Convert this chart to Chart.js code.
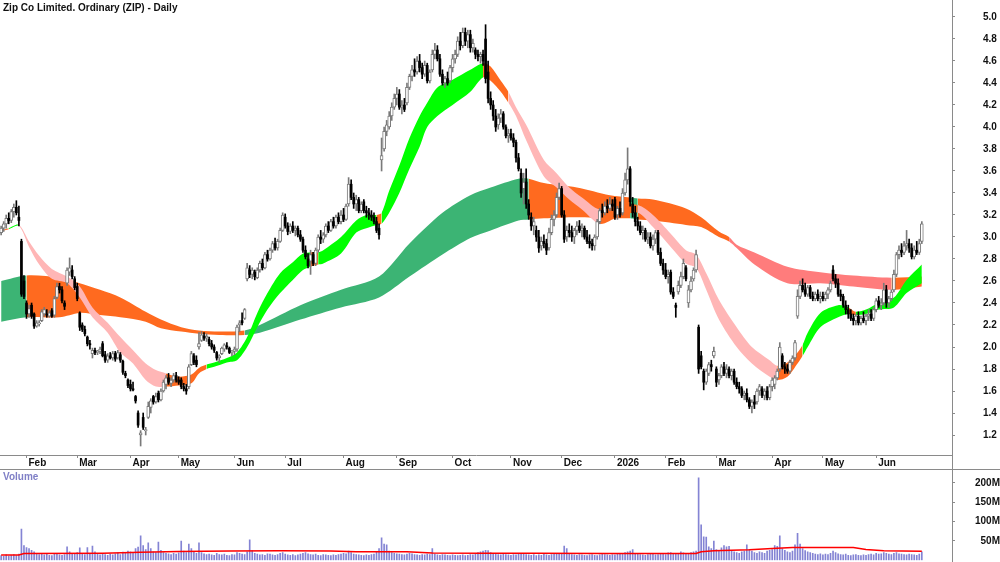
<!DOCTYPE html>
<html><head><meta charset="utf-8">
<script src="https://cdn.jsdelivr.net/npm/chart.js@4.4.1/dist/chart.umd.min.js"></script>
<style>
html,body{margin:0;padding:0;background:#fff;}
#wrap{position:relative;width:1000px;height:562px;overflow:hidden;background:#fff;}
.lbl{position:absolute;font-family:"Liberation Sans",Arial,sans-serif;font-weight:bold;font-size:10px;line-height:12px;white-space:nowrap;}
</style></head><body>
<div id="wrap">
<canvas id="main" width="1000" height="470" style="position:absolute;left:0;top:0"></canvas>
<canvas id="vol" width="1000" height="92" style="position:absolute;left:0;top:470px"></canvas>
<div style="position:absolute;left:0;top:469px;width:1000px;height:1px;background:#8a8a8a"></div>
<div style="position:absolute;left:952px;top:0;width:1px;height:562px;background:#8a8a8a"></div>
<div class="lbl" style="left:3px;top:2px;color:#111">Zip Co Limited. Ordinary (ZIP) - Daily</div>
<div class="lbl" style="left:3px;top:471px;color:#7f7fc6">Volume</div>
</div>
<script>
// ---- categories: ASX trading days ----
const startDate = '2025-01-17', endDate = '2026-06-26';
const holidays = ['2025-01-27','2025-04-18','2025-04-21','2025-04-25','2025-06-09','2025-12-25','2025-12-26','2026-01-01','2026-01-26','2026-04-03','2026-04-06','2026-06-08'];
const monthNames = ['Jan','Feb','Mar','Apr','May','Jun','Jul','Aug','Sep','Oct','Nov','Dec'];
const priceTicks = [1.2,1.4,1.6,1.8,2.0,2.2,2.4,2.6,2.8,3.0,3.2,3.4,3.6,3.8,4.0,4.2,4.4,4.6,4.8,5.0];
const volTicks = [50,100,150,200];

// ---- OHLC ----
const opens = [
3.04,3.08,3.12,3.17,3.15,3.23,3.27,3.18,2.96,2.60,
2.40,2.30,2.38,2.30,2.19,2.21,2.24,2.30,2.30,2.28,
2.33,2.29,2.45,2.55,2.52,2.40,2.58,2.68,2.70,2.62,
2.55,2.31,2.20,2.16,2.09,2.03,1.94,1.97,1.95,1.96,
2.03,1.93,1.88,1.92,1.90,1.94,1.90,1.93,1.87,1.76,
1.70,1.66,1.62,1.55,1.40,1.20,1.36,1.24,1.36,1.45,
1.55,1.50,1.58,1.52,1.60,1.66,1.72,1.67,1.70,1.74,
1.70,1.70,1.64,1.62,1.64,1.84,1.92,1.88,2.00,2.06,
2.10,2.08,2.07,2.03,2.00,1.95,1.90,1.94,1.98,2.01,
1.99,1.95,1.96,1.98,2.20,2.24,2.26,2.62,2.70,2.66,
2.68,2.63,2.70,2.76,2.72,2.84,2.80,2.88,2.94,2.90,
2.96,3.06,3.18,3.10,3.05,3.10,3.06,3.08,3.02,2.98,
2.88,2.80,2.78,2.84,2.76,2.88,3.00,2.98,3.02,3.10,
3.06,3.14,3.10,3.18,3.14,3.20,3.16,3.30,3.48,3.36,
3.30,3.34,3.24,3.32,3.24,3.22,3.20,3.18,3.14,3.08,
3.70,3.80,3.96,4.00,4.10,4.18,4.26,4.30,4.18,4.20,
4.22,4.36,4.46,4.52,4.50,4.60,4.54,4.48,4.56,4.42,
4.52,4.66,4.70,4.62,4.48,4.40,4.44,4.42,4.54,4.62,
4.66,4.78,4.74,4.86,4.78,4.84,4.72,4.70,4.66,4.64,
4.66,4.80,4.50,4.26,4.20,4.10,4.02,4.08,4.12,4.00,
3.92,3.94,3.90,3.86,3.72,3.58,3.44,3.50,3.30,3.18,
3.10,3.06,3.00,2.92,2.96,2.94,2.90,3.04,3.16,3.20,
3.36,3.44,3.20,3.00,3.06,3.04,3.00,3.06,3.10,3.06,
3.08,3.00,2.96,2.94,2.92,3.00,3.14,3.24,3.22,3.28,
3.26,3.30,3.34,3.20,3.26,3.22,3.40,3.52,3.62,3.30,
3.22,3.14,3.10,3.04,3.06,2.98,3.00,2.92,2.98,3.04,
2.86,2.76,2.70,2.64,2.68,2.50,2.38,2.50,2.56,2.64,
2.72,2.40,2.52,2.62,2.70,2.18,1.92,1.78,1.68,1.76,
1.84,1.92,1.80,1.70,1.74,1.82,1.76,1.80,1.74,1.78,
1.68,1.64,1.62,1.56,1.58,1.52,1.46,1.50,1.50,1.60,
1.62,1.56,1.60,1.54,1.64,1.66,1.72,1.80,1.92,1.82,
1.80,1.78,1.86,1.90,2.28,2.46,2.56,2.52,2.48,2.54,
2.46,2.44,2.48,2.44,2.46,2.44,2.48,2.52,2.70,2.62,
2.58,2.48,2.46,2.38,2.34,2.30,2.26,2.24,2.28,2.22,
2.26,2.24,2.28,2.30,2.26,2.34,2.42,2.38,2.40,2.52,
2.40,2.44,2.52,2.66,2.84,2.88,2.86,2.92,2.94,2.90,
2.82,2.88,2.86,2.96];
const highs = [
3.10,3.14,3.20,3.22,3.25,3.30,3.33,3.28,2.98,2.65,
2.42,2.38,2.40,2.31,2.24,2.24,2.34,2.36,2.34,2.33,
2.35,2.46,2.58,2.58,2.55,2.42,2.72,2.81,2.74,2.64,
2.58,2.32,2.22,2.19,2.10,2.06,1.99,1.99,1.97,2.00,
2.05,1.96,1.94,1.95,1.96,1.96,1.97,1.95,1.88,1.78,
1.71,1.70,1.68,1.56,1.42,1.24,1.40,1.27,1.50,1.53,
1.56,1.58,1.60,1.62,1.70,1.74,1.76,1.72,1.76,1.77,
1.73,1.72,1.67,1.66,1.84,1.96,1.94,1.92,2.13,2.14,
2.13,2.12,2.09,2.06,2.02,1.96,1.93,2.00,2.03,2.04,
2.00,1.97,2.00,2.20,2.24,2.31,2.35,2.76,2.74,2.72,
2.70,2.72,2.78,2.80,2.86,2.88,2.90,2.96,2.99,2.98,
3.08,3.22,3.21,3.13,3.12,3.14,3.10,3.10,3.06,3.00,
2.92,2.85,2.88,2.86,2.90,3.02,3.06,3.04,3.12,3.14,
3.16,3.18,3.20,3.22,3.24,3.26,3.30,3.54,3.52,3.40,
3.38,3.36,3.32,3.34,3.28,3.26,3.24,3.22,3.18,3.12,
3.90,4.00,4.06,4.14,4.22,4.30,4.36,4.34,4.24,4.26,
4.40,4.48,4.56,4.62,4.64,4.66,4.58,4.60,4.58,4.52,
4.70,4.76,4.74,4.66,4.52,4.46,4.50,4.56,4.66,4.70,
4.82,4.86,4.90,4.90,4.88,4.88,4.80,4.72,4.70,4.68,
4.70,4.93,4.60,4.32,4.24,4.16,4.12,4.16,4.14,4.02,
3.98,3.98,3.94,3.88,3.76,3.62,3.58,3.62,3.34,3.22,
3.18,3.10,3.06,3.00,3.02,2.98,3.08,3.20,3.24,3.40,
3.49,3.46,3.24,3.10,3.12,3.10,3.08,3.14,3.15,3.12,
3.10,3.06,3.02,2.98,3.02,3.16,3.26,3.30,3.32,3.34,
3.36,3.34,3.36,3.28,3.32,3.44,3.58,3.81,3.64,3.36,
3.28,3.18,3.14,3.10,3.08,3.04,3.04,3.02,3.06,3.06,
2.90,2.80,2.76,2.70,2.70,2.54,2.40,2.60,2.68,2.80,
2.74,2.56,2.64,2.72,2.88,2.20,1.96,1.80,1.80,1.86,
1.88,2.00,1.82,1.76,1.84,1.86,1.84,1.82,1.80,1.80,
1.72,1.68,1.64,1.60,1.62,1.54,1.52,1.56,1.62,1.66,
1.64,1.62,1.64,1.66,1.72,1.74,1.80,2.04,1.94,1.86,
1.84,1.88,1.92,2.06,2.52,2.60,2.62,2.58,2.56,2.56,
2.50,2.50,2.52,2.50,2.50,2.50,2.54,2.60,2.74,2.66,
2.62,2.52,2.48,2.42,2.38,2.34,2.30,2.30,2.32,2.28,
2.32,2.30,2.34,2.34,2.36,2.44,2.46,2.44,2.58,2.56,
2.46,2.52,2.70,2.86,2.92,2.94,2.96,3.06,2.98,2.94,
2.92,2.96,2.98,3.14];
const lows = [
3.02,3.05,3.08,3.12,3.13,3.18,3.20,3.10,2.46,2.44,
2.26,2.27,2.26,2.17,2.18,2.19,2.23,2.28,2.27,2.27,
2.27,2.27,2.44,2.49,2.40,2.34,2.56,2.65,2.62,2.52,
2.42,2.15,2.14,2.10,2.01,1.98,1.90,1.93,1.93,1.94,
1.91,1.86,1.86,1.89,1.88,1.87,1.89,1.86,1.75,1.72,
1.63,1.60,1.60,1.49,1.27,1.10,1.25,1.20,1.35,1.40,
1.48,1.49,1.50,1.51,1.59,1.62,1.66,1.64,1.68,1.68,
1.66,1.62,1.60,1.57,1.62,1.83,1.84,1.82,1.98,2.05,
2.06,2.05,2.01,1.98,1.95,1.88,1.86,1.93,1.96,1.98,
1.94,1.92,1.93,1.96,2.14,2.20,2.25,2.60,2.63,2.62,
2.61,2.62,2.68,2.70,2.71,2.78,2.79,2.86,2.88,2.88,
2.95,3.05,3.08,3.02,3.03,3.04,3.01,3.00,2.96,2.86,
2.80,2.72,2.66,2.74,2.74,2.86,2.94,2.95,3.00,3.04,
3.05,3.08,3.08,3.12,3.12,3.14,3.15,3.28,3.34,3.26,
3.24,3.22,3.22,3.22,3.18,3.16,3.15,3.12,3.04,2.98,
3.60,3.78,3.92,3.98,4.06,4.16,4.20,4.16,4.12,4.14,
4.20,4.34,4.42,4.46,4.48,4.50,4.44,4.46,4.40,4.40,
4.50,4.62,4.60,4.46,4.38,4.36,4.38,4.40,4.50,4.58,
4.64,4.70,4.72,4.74,4.72,4.68,4.68,4.62,4.60,4.58,
4.56,4.40,4.22,4.16,4.06,3.96,3.98,4.04,3.98,3.90,
3.86,3.88,3.82,3.68,3.60,3.36,3.30,3.26,3.16,3.06,
3.02,2.96,2.86,2.88,2.90,2.84,2.88,3.02,3.10,3.18,
3.34,3.18,2.95,2.96,3.00,2.96,2.94,3.02,3.04,3.00,
2.98,2.94,2.90,2.88,2.88,2.98,3.12,3.18,3.20,3.22,
3.24,3.24,3.16,3.16,3.18,3.20,3.38,3.48,3.28,3.18,
3.10,3.06,3.02,2.98,2.96,2.94,2.90,2.88,2.94,2.84,
2.74,2.66,2.62,2.58,2.48,2.44,2.27,2.48,2.54,2.62,
2.60,2.36,2.50,2.60,2.68,1.76,1.80,1.61,1.66,1.74,
1.78,1.90,1.64,1.66,1.72,1.74,1.72,1.72,1.70,1.66,
1.62,1.58,1.54,1.52,1.50,1.44,1.40,1.44,1.48,1.56,
1.54,1.52,1.52,1.52,1.60,1.62,1.70,1.78,1.80,1.76,
1.76,1.76,1.84,1.88,2.26,2.44,2.50,2.46,2.46,2.44,
2.42,2.42,2.42,2.40,2.42,2.42,2.44,2.50,2.60,2.54,
2.46,2.42,2.36,2.30,2.26,2.24,2.20,2.20,2.20,2.20,
2.22,2.20,2.24,2.24,2.24,2.32,2.36,2.34,2.38,2.36,
2.36,2.42,2.50,2.64,2.80,2.82,2.84,2.88,2.86,2.80,
2.80,2.84,2.84,2.94];
const closes = [
3.08,3.12,3.17,3.15,3.23,3.27,3.22,3.15,2.48,2.46,
2.30,2.35,2.28,2.19,2.22,2.22,2.32,2.34,2.29,2.31,
2.28,2.44,2.55,2.52,2.42,2.37,2.70,2.72,2.64,2.54,
2.44,2.18,2.16,2.12,2.03,2.02,1.97,1.95,1.96,1.98,
1.92,1.88,1.92,1.90,1.94,1.89,1.95,1.88,1.77,1.74,
1.65,1.62,1.61,1.51,1.29,1.22,1.27,1.25,1.46,1.51,
1.50,1.55,1.52,1.60,1.68,1.72,1.68,1.70,1.74,1.70,
1.68,1.64,1.62,1.60,1.82,1.94,1.86,1.84,2.03,2.11,
2.08,2.10,2.03,2.00,1.97,1.90,1.92,1.99,2.02,2.00,
1.95,1.96,1.98,2.18,2.22,2.22,2.34,2.72,2.66,2.70,
2.64,2.70,2.76,2.72,2.84,2.80,2.88,2.94,2.90,2.96,
3.06,3.20,3.10,3.05,3.10,3.06,3.08,3.02,2.98,2.88,
2.82,2.74,2.84,2.76,2.88,3.00,2.98,3.02,3.10,3.06,
3.14,3.10,3.18,3.14,3.20,3.16,3.28,3.48,3.36,3.30,
3.34,3.24,3.30,3.24,3.22,3.20,3.18,3.14,3.06,3.02,
3.74,3.96,4.02,4.10,4.18,4.26,4.30,4.18,4.20,4.16,
4.36,4.46,4.52,4.50,4.60,4.54,4.48,4.56,4.42,4.50,
4.66,4.70,4.62,4.48,4.40,4.44,4.40,4.54,4.62,4.66,
4.78,4.74,4.86,4.78,4.84,4.72,4.76,4.66,4.64,4.66,
4.60,4.44,4.26,4.20,4.10,4.00,4.08,4.12,4.00,3.92,
3.94,3.90,3.86,3.72,3.62,3.40,3.50,3.30,3.20,3.10,
3.14,3.00,2.90,2.96,2.94,2.88,3.04,3.16,3.20,3.36,
3.44,3.20,2.98,3.06,3.04,3.00,3.06,3.10,3.06,3.08,
3.00,2.96,2.94,2.92,3.00,3.14,3.24,3.22,3.28,3.26,
3.30,3.28,3.18,3.26,3.20,3.40,3.52,3.62,3.32,3.22,
3.14,3.10,3.04,3.06,2.98,3.00,2.92,2.98,3.04,2.86,
2.76,2.70,2.64,2.66,2.50,2.46,2.36,2.56,2.64,2.76,
2.62,2.52,2.60,2.70,2.84,1.80,1.82,1.68,1.78,1.84,
1.82,1.96,1.68,1.74,1.82,1.76,1.80,1.74,1.78,1.68,
1.64,1.62,1.56,1.58,1.52,1.46,1.50,1.48,1.60,1.64,
1.56,1.60,1.54,1.64,1.70,1.72,1.78,2.00,1.82,1.80,
1.78,1.86,1.90,2.04,2.46,2.56,2.52,2.48,2.54,2.46,
2.44,2.48,2.44,2.46,2.44,2.48,2.52,2.58,2.62,2.58,
2.48,2.46,2.38,2.34,2.30,2.26,2.24,2.28,2.22,2.26,
2.24,2.28,2.30,2.26,2.34,2.42,2.38,2.40,2.52,2.40,
2.44,2.50,2.66,2.84,2.88,2.86,2.92,2.94,2.90,2.82,
2.88,2.86,2.94,3.12];

// ---- volume (millions) ----
const volumes = [
12,10,14,11,13,15,12,16,81,38,
33,30,26,22,18,15,17,14,16,13,
12,18,16,14,13,15,35,22,18,16,
20,32,17,15,33,18,37,22,16,14,
18,15,13,16,14,17,19,15,21,18,
24,22,20,30,34,63,38,28,45,30,
22,20,47,26,20,18,17,15,18,16,
19,50,24,20,42,30,22,18,45,20,
17,15,16,14,13,18,15,14,16,13,
12,15,14,20,18,16,15,22,53,25,
18,16,14,15,13,17,16,14,13,15,
18,20,16,14,13,15,12,14,16,18,
20,17,15,14,16,13,12,15,14,13,
12,14,13,15,16,18,17,24,20,16,
15,14,13,12,14,13,15,16,22,30,
58,42,40,24,20,18,17,16,15,14,
16,18,17,15,14,13,15,14,16,15,
30,16,14,13,15,14,13,12,14,13,
12,13,14,12,13,15,14,16,20,22,
24,26,25,20,18,16,15,14,16,15,
14,13,15,14,17,18,16,15,14,13,
15,12,14,13,16,14,13,15,16,18,
17,16,37,30,18,15,14,13,15,14,
13,12,14,15,13,12,14,16,15,14,
13,15,14,16,18,17,20,22,24,28,
18,16,15,14,13,15,16,17,14,15,
18,16,15,19,20,17,16,18,22,19,
18,17,20,22,24,213,92,61,60,35,
30,50,28,26,32,38,35,36,24,22,
20,18,22,24,40,28,24,20,18,22,
20,18,24,26,28,38,36,63,30,26,
22,20,24,40,70,42,30,25,22,20,
18,16,15,17,14,16,15,18,24,20,
17,15,14,16,13,12,14,15,13,12,
14,13,15,16,14,18,16,17,20,18,
16,15,18,20,17,16,15,14,16,15,
14,13,16,22];
const volMaX = [0,7,9,40,55,70,90,110,130,140,160,170,190,210,240,274,276,281,295,304,312,336,341,348,363];
const volMa  = [14,14,17.5,18.5,21,23,24,24.5,24,22,22,19,18.5,18,17.5,17.5,22,24.5,27,30.5,33,33,28,25,23.5];

// ---- long-term ribbon ----
const longX   = [0,10,23,31,39,47,57,63,71,78,86,96,102,118,134,149,161,174,185,193,204,208,214,227,240,248,251,257,270,276,283,287,290,297,310,323,336,351,363];
const longTop = [2.60,2.65,2.63,2.58,2.52,2.45,2.32,2.25,2.18,2.15,2.14,2.15,2.20,2.38,2.52,2.64,2.94,3.22,3.38,3.45,3.53,3.53,3.49,3.45,3.38,3.36,3.35,3.34,3.26,3.18,3.05,3.00,2.93,2.86,2.73,2.68,2.65,2.63,2.64];
const longBot = [2.23,2.27,2.27,2.31,2.29,2.27,2.23,2.17,2.14,2.12,2.11,2.11,2.13,2.25,2.36,2.45,2.64,2.84,2.99,3.06,3.15,3.16,3.17,3.18,3.17,3.17,3.16,3.15,3.11,3.09,3.00,2.96,2.90,2.75,2.58,2.58,2.55,2.52,2.55];
const longCol = 'GOOOOOOOOOOGGGGGGGGGGOOOOGOOOOOSSSSSSOO'.split('');

// ---- short-term ribbon ----
const shortX   = [0,3,7,11,15,20,26,31,36,42,47,52,57,61,65,70,75,78,81,84,89,93,97,101,105,110,115,119,122,125,127,134,140,144,148,150,153,157,161,165,168,172,178,185,190,193,197,200,203,207,214,219,224,229,236,243,251,257,264,270,274,278,283,290,296,303,306,310,314,316,318,323,330,334,337,341,346,352,357,363];
const shortTop = [3.06,3.08,3.11,2.96,2.83,2.71,2.64,2.55,2.36,2.22,2.09,1.97,1.85,1.79,1.76,1.73,1.75,1.81,1.84,1.86,1.90,1.95,2.09,2.31,2.49,2.67,2.77,2.85,2.86,2.86,2.88,3.00,3.15,3.20,3.20,3.22,3.42,3.65,3.90,4.10,4.22,4.36,4.43,4.52,4.58,4.55,4.42,4.32,4.18,4.02,3.70,3.58,3.45,3.36,3.25,3.28,3.29,3.20,3.03,2.88,2.84,2.67,2.43,2.18,2.00,1.88,1.83,1.86,1.95,2.02,2.13,2.31,2.38,2.36,2.32,2.34,2.40,2.45,2.61,2.75];
const shortBot = [3.05,3.07,3.10,2.91,2.75,2.62,2.58,2.45,2.27,2.13,1.95,1.85,1.70,1.64,1.64,1.65,1.67,1.76,1.80,1.82,1.86,1.88,2.00,2.18,2.34,2.49,2.61,2.70,2.73,2.75,2.76,2.85,3.04,3.08,3.11,3.12,3.22,3.40,3.62,3.82,4.00,4.10,4.20,4.32,4.45,4.42,4.32,4.22,4.10,3.88,3.55,3.45,3.34,3.25,3.12,3.18,3.22,3.09,2.91,2.76,2.72,2.52,2.25,2.00,1.85,1.73,1.70,1.73,1.85,1.92,2.00,2.18,2.27,2.30,2.29,2.30,2.34,2.36,2.49,2.58];
const shortCol = 'OGPPPPPPPPPPPPOOOOGGGGGGGGGGOGGGGGOGGGGGGGGGOOOPPPPPPPOOPPPPPPPPPPOOOGGGGOGGGGGG'.split('');

const longColors  = {G:'#3cb474', O:'#ff6a1f', S:'#ff7c7c'};
const shortColors = {G:'#00ff00', O:'#ff6a1f', P:'#ffb6b6'};

// ---- build day list and month ticks ----
const days = [];
for (let d = new Date(startDate + 'T00:00:00Z'); d <= new Date(endDate + 'T00:00:00Z'); d.setUTCDate(d.getUTCDate() + 1)) {
  const wd = d.getUTCDay(); const s = d.toISOString().slice(0, 10);
  if (wd === 0 || wd === 6 || holidays.includes(s)) continue;
  days.push(s);
}
const monthTicks = [];
for (let i = 1; i < days.length; i++) {
  if (days[i].slice(5, 7) !== days[i - 1].slice(5, 7)) {
    const m = +days[i].slice(5, 7) - 1;
    monthTicks.push({value: i, label: m === 0 ? days[i].slice(0, 4) : monthNames[m]});
  }
}

const n = Math.min(opens.length, highs.length, lows.length, closes.length);
const idx = Array.from({length: n}, (_, i) => i);
const up = idx.map(i => closes[i] >= opens[i]);
const upIdx = idx.filter(i => up[i]);
const dnIdx = idx.filter(i => !up[i]);
const upWick = upIdx.map(i => ({x: i, y: [lows[i], highs[i]]}));
const dnWick = dnIdx.map(i => ({x: i, y: [lows[i], highs[i]]}));
const upBody = upIdx.map(i => ({x: i, y: [opens[i], closes[i]]}));
const dnBody = dnIdx.map(i => ({x: i, y: [opens[i], closes[i]]}));
const volData = volumes.map((v, i) => ({x: i, y: v}));

const FONT = {family: '"Liberation Sans", Arial, sans-serif', size: 10, weight: 'bold'};
Chart.defaults.font = FONT;
const xMin = -0.45, xMax = 374.9;
const yMin = 1.0182, yMax = 5.1545;
const AXIS = '#8a8a8a';

function noPad(s) { s.paddingTop = 0; s.paddingBottom = 0; s.paddingLeft = 0; s.paddingRight = 0; }

function band(xs, ys, cols, cmap, fillTarget, order) {
  return {
    type: 'line', data: xs.map((x, k) => ({x, y: ys[k]})),
    borderWidth: 0, borderColor: 'transparent', pointRadius: 0, tension: 0.3,
    fill: fillTarget, backgroundColor: cmap.O, order,
    segment: cols ? {backgroundColor: c => cmap[cols[c.p0DataIndex]]} : undefined
  };
}

new Chart(document.getElementById('main'), {
  type: 'bar',
  data: {datasets: [
    band(longX, longTop, longCol, longColors, '+1', 6),
    band(longX, longBot, null, longColors, false, 6),
    band(shortX, shortTop, shortCol, shortColors, '+1', 5),
    band(shortX, shortBot, null, shortColors, false, 5),
    {type: 'bar', data: upWick, grouped: false, barThickness: 1, order: 4, backgroundColor: '#7a7a7a', borderWidth: 0},
    {type: 'bar', data: upBody, grouped: false, barThickness: 3, order: 3, minBarLength: 1,
     backgroundColor: '#ffffff', borderColor: '#7a7a7a', borderWidth: 1, borderSkipped: false},
    {type: 'bar', data: dnWick, grouped: false, barThickness: 1, order: 2, backgroundColor: '#000000', borderWidth: 0},
    {type: 'bar', data: dnBody, grouped: false, barThickness: 2, order: 1, minBarLength: 1,
     backgroundColor: '#000000', borderWidth: 0}
  ]},
  options: {
    responsive: false, animation: false, events: [],
    layout: {padding: 0},
    plugins: {legend: {display: false}, tooltip: {enabled: false}},
    scales: {
      x: {type: 'linear', position: 'bottom', min: xMin, max: xMax, offset: false,
        afterFit(s) { s.height = 15; noPad(s); },
        afterBuildTicks(s) { s.ticks = monthTicks.map(t => ({value: t.value})); },
        ticks: {autoSkip: false, maxRotation: 0, minRotation: 0, align: 'start', labelOffset: 2, padding: -1, color: '#111',
          callback: v => { const t = monthTicks.find(m => m.value === v); return t ? t.label : ''; }},
        grid: {display: true, offset: false, drawOnChartArea: false, drawTicks: true, tickLength: 3, color: AXIS},
        border: {display: true, color: AXIS}
      },
      y: {type: 'linear', position: 'right', min: yMin, max: yMax,
        afterFit(s) { s.width = 48; noPad(s); },
        afterBuildTicks(s) { s.ticks = priceTicks.map(v => ({value: v})); },
        ticks: {crossAlign: 'near', padding: 28, color: '#111', callback: v => v.toFixed(1)},
        grid: {display: true, drawOnChartArea: false, drawTicks: true, tickLength: 3, color: AXIS},
        border: {display: true, color: AXIS}
      }
    }
  }
});

new Chart(document.getElementById('vol'), {
  type: 'bar',
  data: {datasets: [
    {type: 'line', data: volMaX.map((x, k) => ({x, y: volMa[k]})), borderColor: '#ff0000', borderWidth: 1.5,
     pointRadius: 0, tension: 0, fill: false, order: 0},
    {type: 'bar', data: volData, grouped: false, barThickness: 1, backgroundColor: '#8484d4', borderWidth: 0, order: 1}
  ]},
  options: {
    responsive: false, animation: false, events: [],
    layout: {padding: {top: 0, left: 0, right: 0, bottom: 1.7}},
    plugins: {legend: {display: false}, tooltip: {enabled: false}},
    scales: {
      x: {type: 'linear', display: false, min: xMin, max: xMax, offset: false},
      y: {type: 'linear', position: 'right', min: 0, max: 233.5,
        afterFit(s) { s.width = 48; noPad(s); },
        afterBuildTicks(s) { s.ticks = volTicks.map(v => ({value: v})); },
        ticks: {crossAlign: 'far', padding: 18, color: '#111', callback: v => v + 'M'},
        grid: {display: true, drawOnChartArea: false, drawTicks: true, tickLength: 3, color: AXIS},
        border: {display: true, color: AXIS}
      }
    }
  }
});
</script>
</body></html>
